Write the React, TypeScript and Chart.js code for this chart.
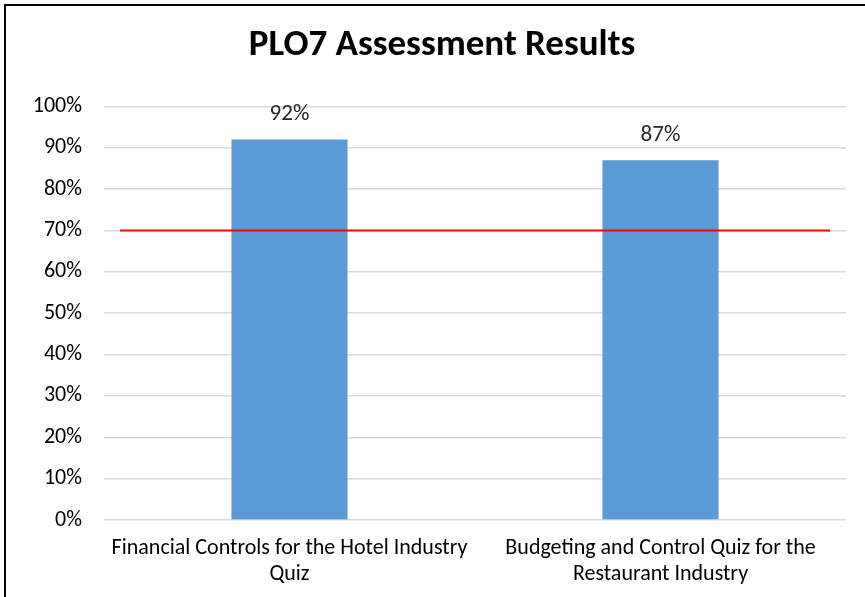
import React, { useEffect, useRef } from "react";
import { Chart, registerables } from "chart.js";

Chart.register(...registerables);

const title = "PLO7 Assessment Results";
const categories: string[][] = [
  ["Financial Controls for the Hotel Industry", "Quiz"],
  ["Budgeting and Control Quiz for the", "Restaurant Industry"],
];
const categoryPositions: number[] = [0, 1];
const scores: number[] = [92, 87];
const targetValue = 70;
const targetX: number[] = [-0.457, 1.457];
const yTicks: number[] = [0, 10, 20, 30, 40, 50, 60, 70, 80, 90, 100];

const FONT = "Carlito, Calibri, Lato, 'Open Sans', sans-serif";

export default function App() {
  const ref = useRef<HTMLCanvasElement | null>(null);

  useEffect(() => {
    document.body.style.margin = "0";
    document.body.style.overflow = "hidden";
    const canvas = ref.current;
    if (!canvas) return;

    const labelPlugin = {
      id: "barLabels",
      afterDatasetsDraw(chart: any) {
        const { ctx } = chart;
        const meta = chart.getDatasetMeta(0);
        ctx.save();
        ctx.fillStyle = "#262626";
        ctx.font = `23px ${FONT}`;
        ctx.textAlign = "center";
        ctx.textBaseline = "middle";
        meta.data.forEach((el: any, i: number) => {
          ctx.fillText(`${scores[i]}%`, el.x, el.y - 25);
        });
        ctx.restore();
      },
    };

    const chart = new Chart(canvas, {
      type: "bar",
      data: {
        datasets: [
          {
            type: "bar",
            label: "Score",
            data: categoryPositions.map((x, i) => ({ x, y: scores[i] })),
            backgroundColor: "#5B9BD5",
            borderWidth: 0,
            categoryPercentage: 1,
            barPercentage: 0.313,
            order: 2,
          } as any,
          {
            type: "line",
            label: "Target",
            data: targetX.map((x) => ({ x, y: targetValue })),
            borderColor: "#FF0000",
            borderWidth: 2,
            pointRadius: 0,
            fill: false,
            order: 1,
          } as any,
        ],
      },
      options: {
        animation: false,
        responsive: false,
        maintainAspectRatio: false,
        layout: { padding: 0 },
        plugins: {
          legend: { display: false },
          tooltip: { enabled: false },
          title: {
            display: true,
            text: title,
            color: "#000000",
            font: { family: FONT, size: 37, weight: "bold", lineHeight: 1.2 },
            padding: { top: 18, bottom: 38 },
          },
        },
        scales: {
          x: {
            type: "linear",
            min: -0.5,
            max: 1.5,
            offset: false,
            afterBuildTicks: (s: any) => {
              s.ticks = categoryPositions.map((v) => ({ value: v }));
            },
            grid: { display: false, drawTicks: false },
            border: { display: false },
            ticks: {
              color: "#000000",
              font: { family: FONT, size: 22, lineHeight: 1.2 },
              padding: 15,
              maxRotation: 0,
              autoSkip: false,
              callback: (v: any) => {
                const i = categoryPositions.indexOf(Number(v));
                return i >= 0 ? categories[i] : "";
              },
            },
            afterFit: (s: any) => {
              s.height = 92;
            },
          },
          y: {
            min: 0,
            max: 100,
            afterBuildTicks: (s: any) => {
              s.ticks = yTicks.map((v) => ({ value: v }));
            },
            grid: { color: "#D9D9D9", lineWidth: 1.5, drawTicks: false },
            border: { display: false },
            ticks: {
              color: "#000000",
              font: { family: FONT, size: 22 },
              padding: 22,
              callback: (v: any) => `${v}%`,
            },
            afterFit: (s: any) => {
              s.width = 98;
            },
          },
          yRight: {
            type: "linear",
            position: "right",
            min: 0,
            max: 100,
            grid: { display: false, drawTicks: false },
            border: { display: false },
            ticks: { display: false },
            afterFit: (s: any) => {
              s.width = 32;
            },
          },
        },
      },
      plugins: [labelPlugin],
    });

    return () => chart.destroy();
  }, []);

  return (
    <div
      style={{
        position: "absolute",
        left: 4,
        top: 4,
        width: 872,
        height: 606,
        border: "2px solid #000",
        background: "#fff",
      }}
    >
      <canvas ref={ref} width={872} height={606} style={{ display: "block" }} />
    </div>
  );
}
